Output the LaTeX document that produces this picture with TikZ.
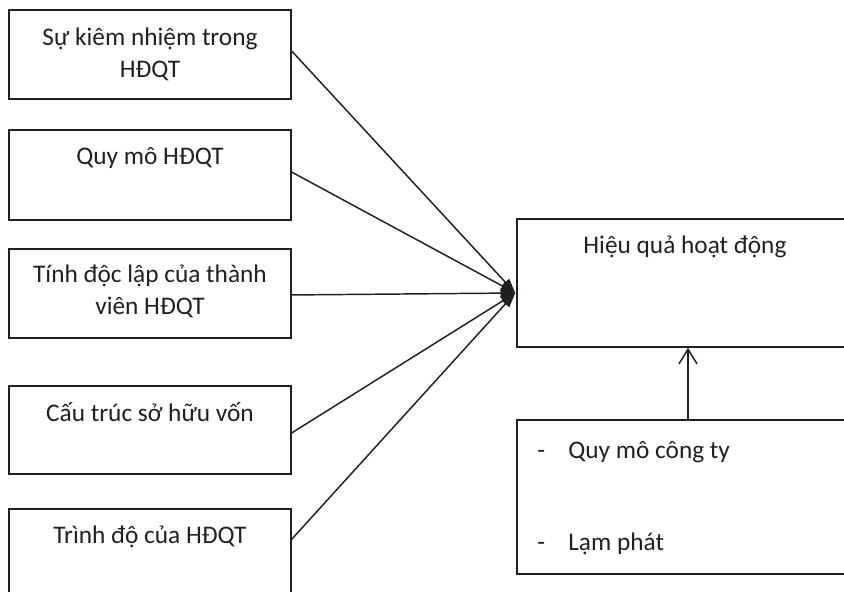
\documentclass[tikz,border=0pt]{standalone}
\usepackage{fontspec}
\setmainfont{Carlito}
\usetikzlibrary{arrows.meta,fit}
\definecolor{ink}{RGB}{35,31,32}
\begin{document}
\begin{tikzpicture}[x=0.75pt,y=-0.75pt,
  box/.style={draw=ink, line width=1.05pt, inner sep=0pt, fit={#1}},
  txt/.style={font=\fontsize{19}{24}\selectfont, text=ink, inner sep=0pt, align=center, anchor=base},
  ltxt/.style={txt, anchor=base west},
  conn/.style={draw=ink, line width=1.1pt, -{Triangle[length=11pt,width=7.5pt]}},
  varrow/.style={draw=ink, line width=1.1pt, -{Straight Barb[length=11pt,width=13.5pt]}},
  ]
\path[use as bounding box] (0,0) rectangle (844,592);
\clip (0,0) rectangle (844,592);
% left boxes
\node[box={(9,10)(291,99)}] (b1) {};
\node[box={(9,130)(291,220)}] (b2) {};
\node[box={(9,249)(291,338)}] (b3) {};
\node[box={(9,386)(291,474)}] (b4) {};
\node[box={(9,509)(291,598)}] (b5) {};
% right boxes
\node[box={(517,219)(880,347)}] (hq) {};
\node[box={(517,420)(880,574)}] (ctl) {};
% texts (base anchor of two-line texts is the last line)
\node[txt] (t1) at ([yshift=-51pt]b1.north) {Sự kiêm nhiệm trong\\HĐQT};
\node[txt] (t2) at ([yshift=-26.5pt]b2.north) {Quy mô HĐQT};
\node[txt] (t3) at ([yshift=-49.5pt]b3.north) {Tính độc lập của thành\\viên HĐQT};
\node[txt] (t4) at ([yshift=-27pt]b4.north) {Cấu trúc sở hữu vốn};
\node[txt] (t5) at ([yshift=-26.25pt]b5.north) {Trình độ của HĐQT};
\node[txt] (th) at (685,253) {Hiệu quả hoạt động};
\node[ltxt] (d1) at (537,458) {-};
\node[ltxt] (c1) at (568,458) {Quy mô công ty};
\node[ltxt] (d2) at (537,550) {-};
\node[ltxt] (c2) at (568,550) {Lạm phát};
% connectors
\coordinate (tgt) at ([shift={(-1,10)}]hq.west);
\draw[conn] ([yshift=2.6pt]b1.east) -- (tgt);
\draw[conn] ([yshift=2.2pt]b2.east) -- (tgt);
\draw[conn] ([yshift=-1.1pt]b3.east) -- (tgt);
\draw[conn] ([yshift=-2.2pt]b4.east) -- (tgt);
\draw[conn] ([yshift=-23.25pt]b5.north east) -- (tgt);
\coordinate (vb) at (688,420);
\draw[varrow] (vb) -- (vb |- hq.south);
\end{tikzpicture}
\end{document}
